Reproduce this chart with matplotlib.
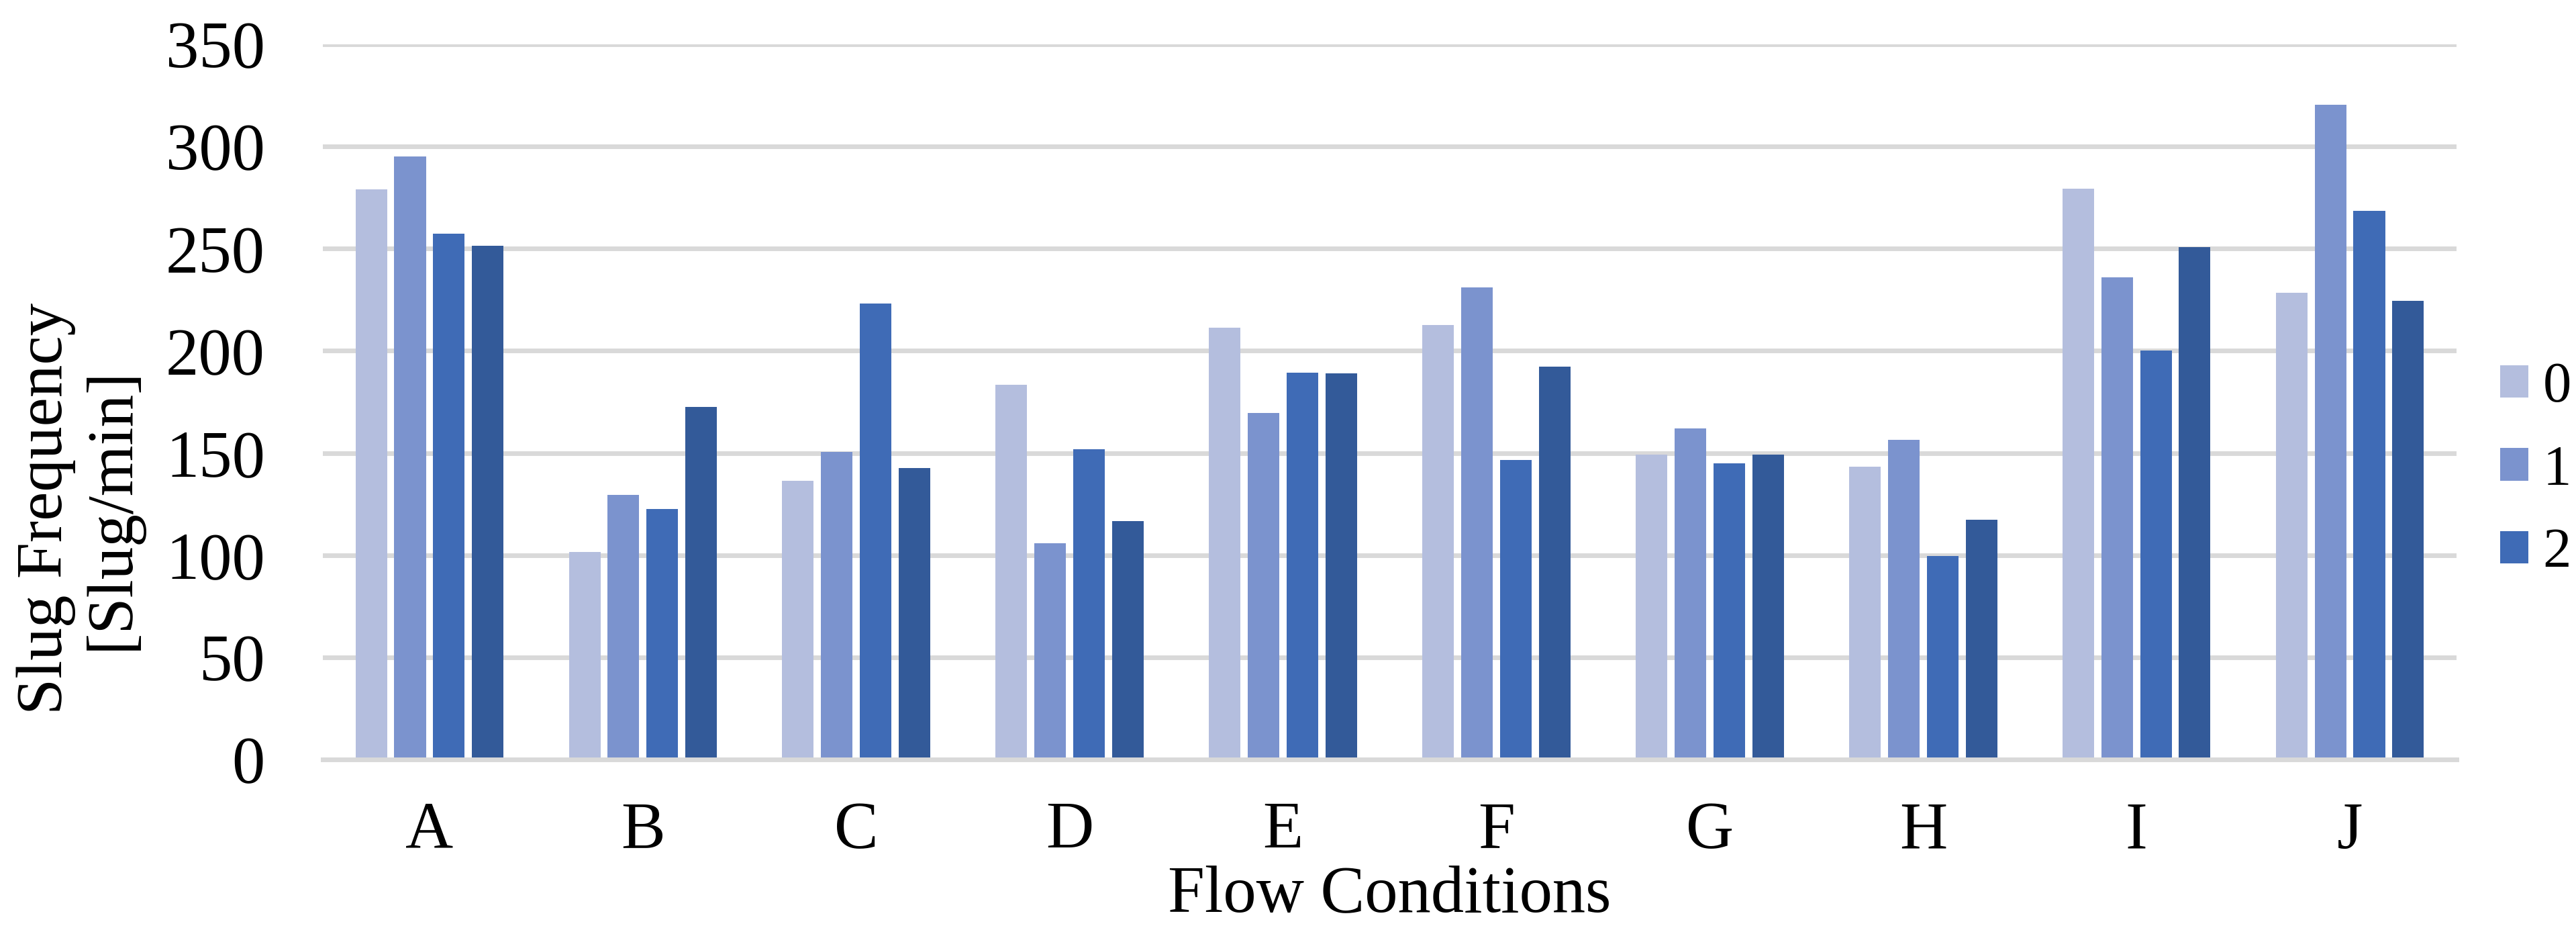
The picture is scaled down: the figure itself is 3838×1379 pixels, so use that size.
import matplotlib
matplotlib.use("Agg")
import matplotlib.pyplot as plt
import numpy as np

categories = ["A", "B", "C", "D", "E", "F", "G", "H", "I", "J"]
series_names = ["0", "1", "2", "3"]
s0 = [279, 101.5, 136.5, 183.4, 211.3, 212.6, 149.3, 143.4, 279.4, 228.4]
s1 = [295, 129.6, 150.5, 105.9, 169.6, 231.0, 162.0, 156.5, 236.0, 320.4]
s2 = [257.4, 122.6, 223.0, 151.8, 189.3, 146.5, 144.9, 99.6, 200.0, 268.5]
s3 = [251.3, 172.5, 142.6, 116.6, 188.9, 192.2, 149.3, 117.3, 250.8, 224.5]
yticks = [0, 50, 100, 150, 200, 250, 300, 350]
colors = ["#B4BEDE", "#7B93CE", "#3F6BB6", "#335A99"]

plt.rcParams["font.family"] = ["Liberation Serif", "DejaVu Serif"]

fig = plt.figure(figsize=(38.38, 13.79), dpi=100)
W, H = 3838, 1379
left, right, top, bottom = 481, 3660, 66, 1131
ax = fig.add_axes([left / W, 1 - bottom / H, (right - left) / W, (bottom - top) / H])

x = np.arange(len(categories))
pitch = 0.182
bw = 0.148
containers = []
for i, vals in enumerate([s0, s1, s2, s3]):
    c = ax.bar(x + (i - 1.5) * pitch, vals, width=bw, color=colors[i],
               label=series_names[i], zorder=3)
    containers.append(c)

ax.set_xlim(-0.5, len(categories) - 0.5)
ax.set_ylim(0, 350)
ax.set_yticks(yticks)
ax.set_yticklabels([str(t) for t in yticks])
ax.set_xticks(x)
ax.set_xticklabels(categories)
ax.yaxis.grid(True, color="#D9D9D9", linewidth=5.0, zorder=0)
ax.set_axisbelow(True)
for s in ["top", "right", "left"]:
    ax.spines[s].set_visible(False)
ax.spines["bottom"].set_color("#D9D9D9")
ax.spines["bottom"].set_linewidth(5.0)
ax.spines["bottom"].set_zorder(4)
ax.tick_params(axis="y", length=0, pad=62, labelsize=71)
ax.tick_params(axis="x", length=0, pad=45, labelsize=71)

ax.set_xlabel("Flow Conditions", fontsize=71, va="baseline")
ax.xaxis.set_label_coords(0.5, -(1357 - bottom) / (bottom - top))
ax.set_ylabel("Slug Frequency\n[Slug/min]", fontsize=70, va="bottom",
              linespacing=1.15)
ax.yaxis.set_label_coords((212 - left) / (right - left), (bottom - 757) / (bottom - top))

handles = [containers[0], containers[1], containers[2]]
leg = fig.legend(handles, series_names[:3], loc="center left",
                 bbox_to_anchor=(3725 / W, 1 - 701 / H), frameon=False,
                 fontsize=61, handlelength=0.5, handleheight=0.5,
                 handletextpad=0.25, labelspacing=0.55, borderpad=0,
                 borderaxespad=0)

fig.savefig("out.png", dpi=100)
